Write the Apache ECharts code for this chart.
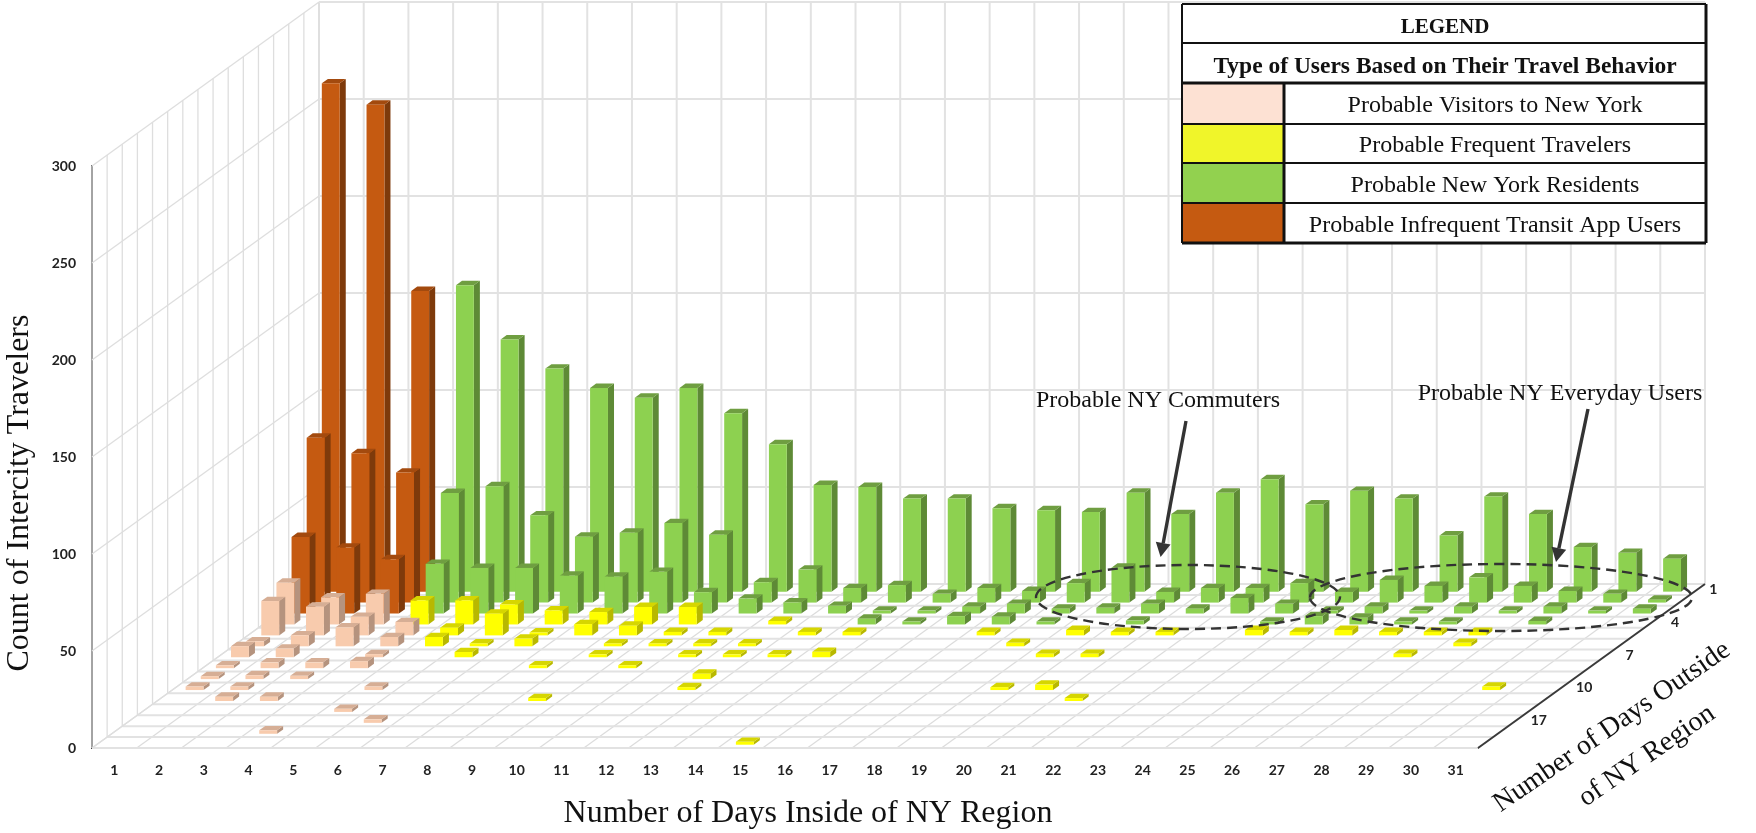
<!DOCTYPE html>
<html style="height: 100%">
<head>
    <meta charset="utf-8">
</head>
<body style="height: 100%; margin: 0; background: #fff">
<div id="container" style="width: 1756px; height: 833px"></div>
<script type="text/javascript" src="https://cdn.jsdelivr.net/npm/echarts@6/dist/echarts.min.js"></script>
<script type="text/javascript">
    var dayLabels = [];
    for (var d = 1; d <= 31; d++) dayLabels.push(String(d));
    var countTicks = [0, 50, 100, 150, 200, 250, 300];
    var rowCount = 15;
    // only these rows of the depth axis carry a label
    var depthLabelRows = [0, 3, 6, 9, 12];
    var depthLabels = ['1', '4', '7', '10', '17'];

    // each bar is [day column, row counted from the back wall, travelers]
    var infrequentUsers = [
        [0, 0, 262], [1, 0, 251], [2, 0, 155],
        [0, 1, 85], [1, 1, 77], [2, 1, 67],
        [0, 2, 39.5], [1, 2, 34], [2, 2, 28]
    ];

    // the green rows start at column 3
    var residentsRow0 = [158, 130, 115, 105, 100, 105, 92, 76, 55, 54, 48, 48, 43, 42, 41, 51, 40, 51, 58, 45, 52, 48, 29, 49, 40, 23, 20, 17];
    var residentsRow1 = [56.5, 60, 45, 34, 36, 41, 35, 10.5, 17, 7.5, 9, 4.5, 7.5, 6, 10, 18, 5.5, 7.5, 7.5, 10, 5.5, 11.7, 8.6, 13, 8.6, 6, 4.5, 1.5];
    var residentsRow2 = [25.6, 23.5, 23.5, 19.5, 19, 21.5, 11, 7.7, 5.7, 4, 1.5, 1.5, 3.5, 5, 2.5, 3, 5, 2.5, 8, 5, 1.5, 3.5, 1.5, 3.5, 1.5, 3.5, 1.5, 2.5];
    var residentsRow3 = [
        [13, 3, 3], [14, 3, 1.5], [15, 3, 4.3], [16, 3, 4], [17, 3, 1.5], [19, 3, 2],
        [22, 3, 1.5], [23, 3, 4.3], [24, 3, 3.5], [25, 3, 1.5], [26, 3, 1.5], [28, 3, 1.8]
    ];

    var frequentTravelers = [
        [3, 3, 12.4], [4, 3, 12.4], [5, 3, 10.3], [6, 3, 7.2], [7, 3, 6.4], [8, 3, 9], [9, 3, 9], [11, 3, 1.8],
        [4, 4, 4], [5, 4, 11.2], [6, 4, 1.5], [7, 4, 5.8], [8, 4, 5], [9, 4, 1.8], [10, 4, 1.8], [12, 4, 1.8], [13, 4, 1.8],
        [16, 4, 1.8], [18, 4, 2.8], [19, 4, 1.8], [20, 4, 1.8], [22, 4, 2.8], [23, 4, 1.8], [24, 4, 2.8], [25, 4, 1.8], [26, 4, 1.8], [27, 4, 1.8],
        [4, 5, 4.8], [5, 5, 1.5], [6, 5, 4], [8, 5, 1.5], [9, 5, 1.5], [10, 5, 1.5], [11, 5, 1.5], [17, 5, 1.8], [27, 5, 1.8],
        [5, 6, 2.7], [8, 6, 1.5], [10, 6, 1.5], [11, 6, 1.5], [12, 6, 1.5], [13, 6, 2.8], [18, 6, 1.8], [19, 6, 1.8], [26, 6, 1.8],
        [7, 7, 1.5], [9, 7, 1.5],
        [11, 8, 2.8],
        [11, 9, 1.5], [18, 9, 1.5], [19, 9, 2.8], [29, 9, 1.8],
        [8, 10, 1.5], [20, 10, 1.5],
        [14, 14, 1.5]
    ];

    var visitors = [
        [0, 3, 21.5], [1, 3, 14], [2, 3, 15.8],
        [0, 4, 17.7], [1, 4, 14.8], [2, 4, 9.6], [3, 4, 6.9],
        [0, 5, 2.6], [1, 5, 5.7], [2, 5, 9.8], [3, 5, 4.8],
        [0, 6, 5.7], [1, 6, 4.5], [3, 6, 1.6],
        [0, 7, 1.5], [1, 7, 3], [2, 7, 3], [3, 7, 3.6],
        [0, 8, 1.5], [1, 8, 2], [2, 8, 1.7],
        [0, 9, 1.8], [1, 9, 1.8], [4, 9, 1.8],
        [1, 10, 2.2], [2, 10, 2.2],
        [4, 11, 1.6],
        [5, 12, 1.8],
        [3, 13, 1.8]
    ];

    var legendTitle = 'LEGEND';
    var legendSubtitle = 'Type of Users Based on Their Travel Behavior';
    var legendNames = ['Probable Visitors to New York', 'Probable Frequent Travelers', 'Probable New York Residents', 'Probable Infrequent Transit App Users'];
    var legendColors = ['#fde1d3', '#f0f52a', '#92d14f', '#c55a11'];

    function rowOf(values, row) {
        return values.map(function (v, i) { return [i + 3, row, v]; });
    }
    var residents = rowOf(residentsRow0, 0).concat(rowOf(residentsRow1, 1), rowOf(residentsRow2, 2), residentsRow3);

    // oblique projection: one floor row moves a point this far on screen
    var rowDx = 227 / rowCount;
    var rowDy = -164 / rowCount;
    var barShare = 0.4;
    var gridColor = '#e2e2e2';
    var axisColor = '#3a3a3a';
    var serif = '"Liberation Serif", serif';

    function project(api, col, value, depth) {
        var p = api.coord([col, value]);
        return [p[0] + depth * rowDx, p[1] + depth * rowDy];
    }

    function barRenderer(front, side, top) {
        return function (params, api) {
            var col = api.value(0), row = api.value(1), val = api.value(2);
            var half = api.size([1, 0])[0] * barShare / 2;
            var d = rowCount - row - 0.5;
            var near = d - barShare / 2, far = d + barShare / 2;
            function at(sx, v, dep) {
                var p = project(api, col, v, dep);
                return [p[0] + sx * half, p[1]];
            }
            var z2 = 10 + row;
            return {
                type: 'group',
                children: [
                    {type: 'polygon', z2: z2, silent: true, shape: {points: [at(1, 0, near), at(1, val, near), at(1, val, far), at(1, 0, far)]}, style: {fill: side}},
                    {type: 'polygon', z2: z2, silent: true, shape: {points: [at(-1, val, near), at(1, val, near), at(1, val, far), at(-1, val, far)]}, style: {fill: top}},
                    {type: 'polygon', z2: z2, silent: true, shape: {points: [at(-1, 0, near), at(1, 0, near), at(1, val, near), at(-1, val, near)]}, style: {fill: front}}
                ]
            };
        };
    }

    function renderWalls(params, api) {
        var children = [];
        var band = api.size([1, 0])[0];
        var lastDay = dayLabels.length - 1;
        var maxCount = countTicks[countTicks.length - 1];
        function line(a, b, width, color, z2) {
            children.push({type: 'line', silent: true, z2: z2 || 1, shape: {x1: a[0], y1: a[1], x2: b[0], y2: b[1]}, style: {stroke: color || gridColor, lineWidth: width}});
        }
        function corner(edge, v, dep) {
            var p = project(api, edge < 0 ? 0 : lastDay, v, dep);
            return [p[0] + edge * band / 2, p[1]];
        }
        // day lines on the floor and up the back wall
        for (var i = 0; i <= dayLabels.length; i++) {
            var f = project(api, 0, 0, 0), x = i * band - band / 2;
            line([f[0] + x, f[1]], [f[0] + x + rowCount * rowDx, f[1] + rowCount * rowDy], 1.2, '#dcdcdc');
            var b = project(api, 0, maxCount, rowCount);
            line([f[0] + x + rowCount * rowDx, f[1] + rowCount * rowDy], [b[0] + x, b[1]], 2);
        }
        // row lines on the floor and up the side wall
        for (var r = 0; r <= rowCount; r++) {
            line(corner(-1, 0, r), corner(1, 0, r), 2);
            line(corner(-1, 0, r), corner(-1, maxCount, r), 1.3, '#dedede');
        }
        countTicks.forEach(function (t) {
            line(corner(-1, t, 0), corner(-1, t, rowCount), 1.3, '#dedede');
            line(corner(-1, t, rowCount), corner(1, t, rowCount), 2);
        });
        line(corner(1, 0, 0), corner(1, 0, rowCount), 2, axisColor, 3);
        depthLabelRows.forEach(function (row, k) {
            var p = corner(1, 0, rowCount - row - 0.5);
            children.push({type: 'text', silent: true, z2: 3, style: {
                text: depthLabels[k], x: p[0] + (k === 0 ? 16 : 23), y: p[1], align: 'center', verticalAlign: 'middle',
                fontFamily: 'Lato', fontWeight: 'bold', fontSize: 14, fill: '#222'
            }});
        });
        return {type: 'group', children: children};
    }

    function barSeries(name, data, front, side, top) {
        return {
            type: 'custom', name: name, data: data, clip: false, silent: true,
            encode: {x: 0, y: 2},
            renderItem: barRenderer(front, side, top)
        };
    }

    // legend table, built from the lists above
    function legendGraphics() {
        var left = 1182, right = 1706, split = 1284;
        var rowY = [4, 43, 83, 124, 163, 203, 243];
        var out = [{type: 'rect', z: 20, shape: {x: left, y: rowY[0], width: right - left, height: rowY[6] - rowY[0]}, style: {fill: '#fff'}}];
        legendColors.forEach(function (c, i) {
            out.push({type: 'rect', z: 20, shape: {x: left, y: rowY[i + 2], width: split - left, height: rowY[i + 3] - rowY[i + 2]}, style: {fill: c}});
            out.push({type: 'text', z: 21, x: 1495, y: (rowY[i + 2] + rowY[i + 3]) / 2 + 2.5, style: {
                text: legendNames[i], align: 'center', verticalAlign: 'middle', fontFamily: serif, fontSize: 24, fill: '#111'
            }});
        });
        rowY.forEach(function (y, i) {
            out.push({type: 'line', z: 22, shape: {x1: left, y1: y, x2: right, y2: y}, style: {stroke: '#111', lineWidth: (i === 2 || i === 6) ? 3 : 2}});
        });
        out.push({type: 'line', z: 22, shape: {x1: left, y1: rowY[0], x2: left, y2: rowY[6]}, style: {stroke: '#111', lineWidth: 2}});
        out.push({type: 'line', z: 22, shape: {x1: right, y1: rowY[0], x2: right, y2: rowY[6]}, style: {stroke: '#111', lineWidth: 3}});
        out.push({type: 'line', z: 22, shape: {x1: split, y1: rowY[2], x2: split, y2: rowY[6]}, style: {stroke: '#111', lineWidth: 3}});
        out.push({type: 'text', z: 21, x: 1445, y: 28, style: {text: legendTitle, align: 'center', verticalAlign: 'middle', fontFamily: serif, fontWeight: 'bold', fontSize: 21, fill: '#111'}});
        out.push({type: 'text', z: 21, x: 1445, y: 67, style: {text: legendSubtitle, align: 'center', verticalAlign: 'middle', fontFamily: serif, fontWeight: 'bold', fontSize: 23.5, fill: '#111'}});
        return out;
    }

    function caption(text, x, y, size, angle) {
        return {type: 'text', z: 15, x: x, y: y, rotation: (angle || 0) * Math.PI / 180, style: {
            text: text, align: 'center', verticalAlign: 'middle', fontFamily: serif, fontSize: size, fill: '#111'
        }};
    }

    function arrow(x1, y1, x2, y2) {
        var len = Math.sqrt((x2 - x1) * (x2 - x1) + (y2 - y1) * (y2 - y1));
        var ux = (x2 - x1) / len, uy = (y2 - y1) / len;
        var bx = x2 - ux * 14, by = y2 - uy * 14;
        return [
            {type: 'line', z: 16, shape: {x1: x1, y1: y1, x2: bx, y2: by}, style: {stroke: '#333', lineWidth: 3.4}},
            {type: 'polygon', z: 16, shape: {points: [[x2, y2], [bx - uy * 7.5, by + ux * 7.5], [bx + uy * 7.5, by - ux * 7.5]]}, style: {fill: '#333'}}
        ];
    }

    function dashedEllipse(cx, cy, rx, ry) {
        return {type: 'ellipse', z: 16, shape: {cx: cx, cy: cy, rx: rx, ry: ry}, style: {fill: null, stroke: '#333', lineWidth: 2.4, lineDash: [10, 6]}};
    }

    var myChart = echarts.init(document.getElementById('container'));
    var option = {
        animation: false,
        backgroundColor: '#fff',
        grid: {left: 92, right: 278, top: 166, bottom: 85, containLabel: false},
        xAxis: {
            type: 'category', data: dayLabels,
            axisTick: {show: false},
            axisLine: {lineStyle: {color: axisColor, width: 2}},
            axisLabel: {interval: 0, margin: 15, fontFamily: 'Lato', fontWeight: 'bold', fontSize: 14, color: '#222'},
            splitLine: {show: false}
        },
        yAxis: {
            type: 'value', min: 0, max: 300, interval: 50,
            axisTick: {show: false},
            axisLine: {show: true, lineStyle: {color: axisColor, width: 2}},
            axisLabel: {margin: 16, fontFamily: 'Lato', fontWeight: 'bold', fontSize: 14, color: '#222'},
            splitLine: {show: false}
        },
        series: [
            {type: 'custom', name: 'walls', data: [[0, 0]], clip: false, silent: true, encode: {x: 0, y: 1}, renderItem: renderWalls},
            barSeries('Probable Infrequent Transit App Users', infrequentUsers, '#c55a11', '#7e3a0b', '#a34a0e'),
            barSeries('Probable New York Residents', residents, '#8dd150', '#5e8a36', '#6f9e41'),
            barSeries('Probable Frequent Travelers', frequentTravelers, '#ffff00', '#b8b800', '#d6d600'),
            barSeries('Probable Visitors to New York', visitors, '#f8cbad', '#b5937e', '#d6ae95')
        ],
        graphic: {
            elements: legendGraphics().concat(
                [
                    caption('Count of Intercity Travelers', 20, 493, 32, 90),
                    caption('Number of Days Inside of NY Region', 808, 814, 32),
                    caption('Number of Days Outside', 1612, 727, 28, 34.5),
                    caption('of NY Region', 1647, 756, 28, 34.5),
                    caption('Probable NY Commuters', 1158, 401, 24),
                    caption('Probable NY Everyday Users', 1560, 394, 24),
                    dashedEllipse(1188, 597, 152, 32),
                    dashedEllipse(1501, 597.5, 191, 33.5)
                ],
                arrow(1186, 421, 1160.6, 557),
                arrow(1588, 409, 1556, 562)
            )
        }
    };
    myChart.setOption(option);
</script>
</body>
</html>
